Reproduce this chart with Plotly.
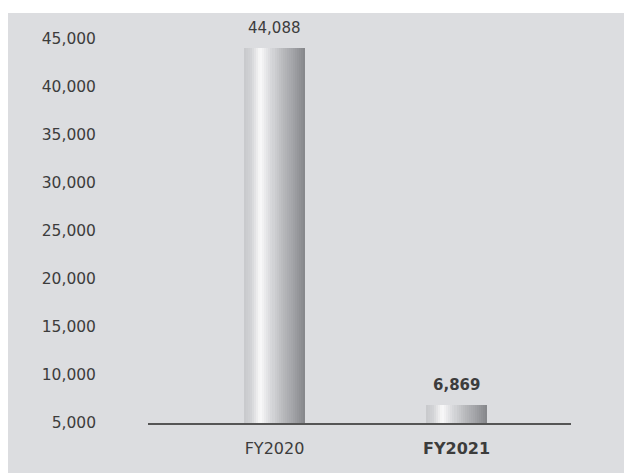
import plotly.graph_objects as go

categories = ["FY2020", "FY2021"]
tick_labels = ["FY2020", "<b>FY2021</b>"]
values = [44088, 6869]
value_labels = ["44,088", "<b>6,869</b>"]
y_ticks = [5000, 10000, 15000, 20000, 25000, 30000, 35000, 40000, 45000]

FONT = "DejaVu Sans"
TXT = "#3c3c3c"
BG = "#dcdde0"

# cylindrical gradient stops (fraction across bar, rgb)
stops = [(0.0, (200, 201, 204)), (0.12, (210, 211, 214)), (0.27, (250, 250, 250)),
         (0.45, (214, 215, 218)), (0.62, (186, 187, 190)), (0.82, (160, 161, 165)),
         (1.0, (132, 133, 137))]

def color_at(t):
    for (t0, c0), (t1, c1) in zip(stops[:-1], stops[1:]):
        if t0 <= t <= t1:
            f = (t - t0) / (t1 - t0)
            c = [round(a + (b - a) * f) for a, b in zip(c0, c1)]
            return f"rgb({c[0]},{c[1]},{c[2]})"
    return "rgb(132,133,137)"

bar_w = 0.335
n = 30
fig = go.Figure()
for i in range(n):
    t = (i + 0.5) / n
    fig.add_trace(go.Bar(
        x=categories, y=values, width=bar_w / n * 1.05,
        offset=-bar_w / 2 + i * bar_w / n,
        marker=dict(color=color_at(t), line=dict(width=0)),
        showlegend=False, hoverinfo="skip"))

for c, v, lab in zip(categories, values, value_labels):
    fig.add_annotation(x=c, y=v, text=lab, showarrow=False, yanchor="bottom",
                       yshift=9, font=dict(family=FONT, size=15, color=TXT))

fig.add_shape(type="rect", xref="paper", yref="paper", x0=(8 - 148) / 423, x1=1.2,
              y0=-0.3, y1=(423 - 13) / 403, fillcolor=BG, line=dict(width=0),
              layer="below")

fig.update_layout(
    width=624, height=473, barmode="overlay", bargap=0,
    margin=dict(l=148, r=53, t=20, b=50),
    paper_bgcolor="white", plot_bgcolor="rgba(0,0,0,0)",
    font=dict(family=FONT, size=15, color=TXT),
    xaxis=dict(type="category", range=[-0.695, 1.629], tickvals=categories,
               ticktext=tick_labels, showline=True, linecolor="#555555",
               linewidth=1.5, ticks="", showgrid=False, zeroline=False,
               ticklabelstandoff=10, tickfont=dict(size=16)),
    yaxis=dict(range=[5000, 46980], tickvals=y_ticks,
               ticktext=[f"{v:,}" for v in y_ticks], showline=False,
               showgrid=False, zeroline=False, ticks="",
               ticklabelstandoff=51, tickfont=dict(size=15.5)),
)

fig.write_html("out.html")
